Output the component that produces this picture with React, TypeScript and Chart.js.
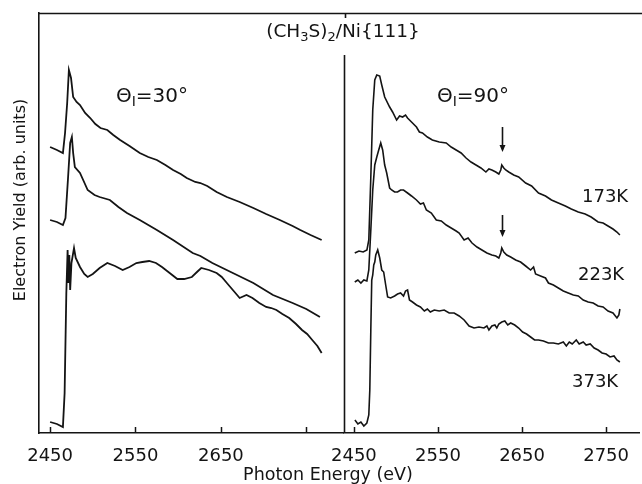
import React, { useEffect, useRef } from 'react';
import { Chart, registerables } from 'chart.js';

Chart.register(...registerables);

// ---------------- axes ----------------
const tickValues = [2450, 2550, 2650, 2750];
const leftTickLabels = ['2450', '2550', '2650', ''];
const rightTickLabels = ['2450', '2550', '2650', '2750'];
const leftRange = [2437, 2793];
const rightRange = [2438.2, 2790];
const yieldRange = [0, 420];

// ---------------- Θ = 30° spectra ----------------
const e30_173K = [2450, 2458, 2465, 2467.5, 2470, 2472, 2474.5, 2477, 2481, 2485, 2491, 2497, 2503, 2509, 2517, 2524, 2532, 2543, 2555, 2565, 2575, 2585, 2594, 2603, 2610, 2620, 2626, 2634, 2645, 2657, 2672, 2688, 2703, 2719, 2734, 2743, 2755, 2768];
const y30_173K = [286, 283, 280, 300, 330, 363, 355, 336, 331, 328, 320, 315, 309, 305, 303, 298, 293, 287, 280, 276, 273, 268, 263, 259, 255, 251, 250, 247, 241, 236, 231, 225, 219, 213, 207, 203, 198, 193];

const e30_223K = [2450, 2458, 2465, 2468, 2471, 2473.5, 2475.5, 2477, 2479, 2485, 2494, 2502, 2508, 2520, 2530, 2540, 2555, 2575, 2594, 2617, 2626, 2640, 2664, 2688, 2711, 2734, 2750, 2766];
const y30_223K = [213, 211, 208, 215, 255, 290, 296, 280, 266, 260, 243, 238, 236, 233, 226, 220, 213, 203, 193, 180, 177, 170, 160, 150, 138, 130, 124, 116];

const e30_373K = [2450, 2458, 2465, 2467, 2469, 2470.5, 2471.5, 2472.5, 2473.5, 2475, 2478, 2480, 2485, 2490, 2494, 2500, 2508, 2517, 2526, 2535, 2543, 2551, 2558, 2566, 2574, 2581, 2590, 2599, 2607, 2616, 2622, 2627, 2636, 2645, 2651, 2657, 2664, 2672, 2680, 2687, 2695, 2703, 2709, 2715, 2722, 2730, 2738, 2745, 2751, 2757, 2763, 2768];
const y30_373K = [11, 9, 6, 40, 140, 183, 150, 178, 143, 170, 185, 175, 166, 159, 156, 159, 165, 170, 167, 163, 166, 170, 171, 172, 170, 166, 160, 154, 154, 156, 161, 165, 163, 160, 156, 150, 143, 135, 138, 135, 130, 126, 125, 123, 119, 115, 109, 103, 99, 93, 87, 80];

// ---------------- Θ = 90° spectra ----------------
const e90_173K = [2451, 2456, 2461, 2465.5, 2467.7, 2470, 2472.4, 2474.8, 2477.2, 2480.7, 2483.1, 2486.6, 2492.5, 2496, 2500.8, 2504.3, 2507.9, 2511.4, 2513.8, 2518.5, 2524.4, 2527.9, 2531.5, 2537.4, 2543.3, 2551.5, 2559.8, 2565.7, 2571.6, 2577.5, 2583.4, 2589.3, 2595.2, 2601.1, 2607, 2610.6, 2614.1, 2618.8, 2622.4, 2624.7, 2625.9, 2628.3, 2630.6, 2634.2, 2640.1, 2646, 2654.3, 2661.4, 2669.6, 2677.9, 2685, 2693.2, 2701.5, 2708.6, 2716.9, 2725.1, 2732.2, 2740.5, 2746.4, 2752.3, 2758.2, 2762.9, 2766.4];
const y90_173K = [180, 182, 181, 183, 193, 253, 323, 353, 358, 357, 348, 336, 326, 321, 313, 317, 316, 318, 315, 311, 306, 301, 300, 296, 293, 291, 290, 286, 283, 280, 275, 271, 268, 265, 261, 264, 263, 261, 259, 263, 268, 265, 263, 261, 258, 256, 250, 247, 240, 237, 233, 230, 227, 224, 221, 219, 216, 211, 210, 207, 204, 201, 198];

const e90_223K = [2451, 2454.7, 2458.3, 2461.8, 2465.4, 2467.7, 2470.1, 2472.4, 2474.8, 2477.2, 2479.5, 2481.9, 2484.2, 2486.6, 2489, 2492.5, 2494.9, 2498.4, 2501.9, 2505.5, 2509, 2513.8, 2518.5, 2524.4, 2529.1, 2532.7, 2536.2, 2542.1, 2548, 2553.9, 2559.8, 2565.7, 2571.6, 2575.2, 2581.1, 2585.8, 2590.5, 2596.4, 2602.3, 2608.2, 2614.1, 2618.8, 2622.4, 2624.7, 2625.9, 2628.3, 2631.8, 2636.5, 2642.4, 2648.3, 2654.3, 2660.2, 2663.7, 2666.1, 2672, 2677.9, 2681.4, 2687.3, 2693.2, 2699.1, 2705, 2711, 2716.9, 2722.8, 2728.7, 2734.6, 2740.5, 2746.4, 2752.3, 2758.2, 2762.9, 2765.2, 2766.4];
const y90_223K = [151, 153, 150, 153, 152, 163, 203, 243, 268, 276, 283, 290, 283, 268, 260, 245, 243, 241, 241, 243, 243, 240, 237, 233, 229, 230, 223, 220, 213, 212, 208, 205, 202, 200, 193, 195, 190, 186, 183, 180, 178, 177, 175, 180, 185, 181, 178, 176, 173, 171, 167, 163, 166, 159, 157, 155, 150, 148, 145, 142, 140, 138, 137, 133, 131, 130, 127, 126, 122, 120, 115, 118, 124];

const e90_373K = [2451.2, 2454.7, 2458.3, 2461.8, 2465.4, 2467.7, 2468.9, 2470.1, 2471.2, 2472.4, 2473.6, 2474.8, 2476, 2478.3, 2480.7, 2483.1, 2485.4, 2487.8, 2490.1, 2493.7, 2498.4, 2501.9, 2505.5, 2509, 2511.4, 2513.8, 2516.1, 2519.7, 2524.4, 2529.1, 2533.8, 2537.4, 2540.9, 2545.6, 2551.5, 2557.4, 2563.3, 2569.2, 2575.2, 2581.1, 2587, 2592.9, 2598.8, 2604.7, 2608.2, 2610.6, 2614.1, 2617.7, 2620, 2622.4, 2625.9, 2629.5, 2633, 2636.5, 2641.3, 2646, 2650.7, 2655.4, 2660.2, 2664.9, 2669.6, 2675.5, 2681.4, 2687.3, 2693.2, 2699.1, 2702.7, 2706.2, 2709.7, 2714.5, 2718, 2722.8, 2726.3, 2731.1, 2735.8, 2740.5, 2745.2, 2750, 2754.7, 2759.4, 2762.9, 2766.4];
const y90_373K = [13, 9, 11, 7, 10, 18, 43, 103, 153, 158, 168, 171, 178, 183, 175, 163, 161, 148, 136, 135, 137, 139, 140, 137, 142, 143, 133, 131, 128, 126, 122, 124, 121, 123, 122, 123, 120, 120, 117, 113, 107, 105, 106, 105, 107, 103, 107, 108, 105, 109, 111, 112, 108, 110, 108, 105, 101, 99, 96, 93, 93, 92, 90, 90, 89, 91, 87, 91, 89, 93, 89, 91, 88, 89, 85, 83, 80, 79, 76, 77, 73, 71];

// ---------------- annotations ----------------
const titleParts = [
  { t: '(CH' }, { t: '3', sub: true }, { t: 'S)' }, { t: '2', sub: true }, { t: '/Ni{111}' },
];
const angleLabels = ['30°', '90°'];
const tempLabels = ['173K', '223K', '373K'];
const xTitle = 'Photon Energy (eV)';
const yTitle = 'Electron Yield (arb. units)';
const arrowEnergy = 2626;
const arrowTop = [306, 218];
const arrowTip = [281, 196];

const FONT = '"DejaVu Sans", "Liberation Sans", Arial, sans-serif';
const INK = '#141414';

type Part = { t: string; sub?: boolean };

function drawRich(ctx: CanvasRenderingContext2D, parts: Part[], x: number, baseline: number, size: number, align: 'left' | 'center') {
  const subSize = Math.round(size * 0.68);
  let total = 0;
  const widths = parts.map((p) => {
    ctx.font = `${p.sub ? subSize : size}px ${FONT}`;
    const w = ctx.measureText(p.t).width;
    total += w;
    return w;
  });
  let cx = align === 'center' ? x - total / 2 : x;
  ctx.textAlign = 'left';
  ctx.textBaseline = 'alphabetic';
  parts.forEach((p, i) => {
    ctx.font = `${p.sub ? subSize : size}px ${FONT}`;
    ctx.fillText(p.t, cx, baseline + (p.sub ? size * 0.22 : 0));
    cx += widths[i];
  });
}

function seg(ctx: CanvasRenderingContext2D, x1: number, y1: number, x2: number, y2: number) {
  ctx.beginPath();
  ctx.moveTo(x1, y1);
  ctx.lineTo(x2, y2);
  ctx.stroke();
}

const innerTicks = {
  id: 'innerTicks',
  afterDraw(chart: any) {
    const { ctx } = chart;
    const xs = chart.scales.x;
    ctx.save();
    ctx.strokeStyle = INK;
    ctx.lineWidth = 1.5;
    for (const v of tickValues) {
      const px = Math.round(xs.getPixelForValue(v)) + 0.5;
      seg(ctx, px, xs.top, px, xs.top - 6);
    }
    ctx.restore();
  },
};

const decor = {
  id: 'decor',
  afterDraw(chart: any) {
    const { ctx, chartArea } = chart;
    const xs = chart.scales.x;
    const ys = chart.scales.y;
    ctx.save();
    ctx.strokeStyle = INK;
    ctx.fillStyle = INK;
    ctx.lineWidth = 1.6;
    // frame top and divider
    seg(ctx, 39, 13.5, 642, 13.5);
    seg(ctx, chartArea.left + 0.5, 55, chartArea.left + 0.5, chartArea.bottom);
    seg(ctx, chartArea.left + 1.5, 13, chartArea.left + 1.5, 18);

    // title
    drawRich(ctx, titleParts, 343, 37, 18.5, 'center');
    // angle labels
    drawRich(ctx, [{ t: 'Θ' }, { t: 'I', sub: true }, { t: '=' + angleLabels[0] }], 152, 102, 20, 'center');
    drawRich(ctx, [{ t: 'Θ' }, { t: 'I', sub: true }, { t: '=' + angleLabels[1] }], 473, 102, 20, 'center');
    // temperature labels
    ctx.font = `18px ${FONT}`;
    ctx.textAlign = 'left';
    ctx.textBaseline = 'alphabetic';
    ctx.fillText(tempLabels[0], 582, 202);
    ctx.fillText(tempLabels[1], 578, 280);
    ctx.fillText(tempLabels[2], 572, 387);

    // arrows
    const ax = Math.round(xs.getPixelForValue(arrowEnergy)) + 0.5;
    ctx.lineWidth = 1.6;
    for (let i = 0; i < arrowTop.length; i++) {
      const y1 = ys.getPixelForValue(arrowTop[i]);
      const y2 = ys.getPixelForValue(arrowTip[i]);
      seg(ctx, ax, y1, ax, y2 - 5);
      ctx.beginPath();
      ctx.moveTo(ax - 3, y2 - 7);
      ctx.lineTo(ax + 3, y2 - 7);
      ctx.lineTo(ax, y2);
      ctx.closePath();
      ctx.fill();
    }

    // axis titles
    ctx.font = `17.5px ${FONT}`;
    ctx.textAlign = 'center';
    ctx.textBaseline = 'alphabetic';
    ctx.fillText(xTitle, 328, 480);
    ctx.save();
    ctx.translate(21, 200);
    ctx.rotate(-Math.PI / 2);
    ctx.font = `16px ${FONT}`;
    ctx.textBaseline = 'middle';
    ctx.fillText(yTitle, 0, 0);
    ctx.restore();
    ctx.restore();
  },
};

function makeConfig(series: number[][][], range: number[], labels: string[], side: 'left' | 'right', plugins: any[]) {
  const yAxis: any = {
    type: 'linear',
    min: yieldRange[0],
    max: yieldRange[1],
    display: side === 'left',
    ticks: { display: false },
    grid: { display: false, drawTicks: false },
    border: { display: true, color: INK, width: 1.6 },
  };
  if (side === 'left') {
    yAxis.afterFit = (s: any) => {
      s.width = 39;
    };
  }
  return {
    type: 'line' as const,
    data: {
      datasets: series.map(([e, y]) => ({
        data: e.map((x, i) => ({ x, y: y[i] })),
        borderColor: INK,
        borderWidth: side === 'left' ? 1.8 : 1.6,
        pointRadius: 0,
        tension: 0,
        fill: false,
      })),
    },
    options: {
      responsive: false,
      animation: false as const,
      events: [],
      layout: { padding: { left: side === 'right' ? 344 : 0, top: 13, right: side === 'left' ? 1 : 0, bottom: 0 } },
      plugins: { legend: { display: false }, tooltip: { enabled: false }, title: { display: false } },
      scales: {
        x: {
          type: 'linear' as const,
          min: range[0],
          max: range[1],
          afterBuildTicks: (s: any) => {
            s.ticks = tickValues.map((value) => ({ value }));
          },
          afterFit: (s: any) => {
            s.height = 51;
          },
          ticks: {
            autoSkip: false,
            maxRotation: 0,
            padding: 13,
            color: INK,
            font: { family: FONT, size: 18 },
            callback: (v: any) => {
              const i = tickValues.indexOf(Number(v));
              return i >= 0 ? labels[i] : '';
            },
          },
          grid: { display: false, drawTicks: false },
          border: { display: true, color: INK, width: 1.6 },
        },
        y: yAxis,
      },
    },
    plugins,
  };
}

export default function App() {
  const refA = useRef<HTMLCanvasElement>(null);
  const refB = useRef<HTMLCanvasElement>(null);

  useEffect(() => {
    const a = new Chart(
      refA.current as HTMLCanvasElement,
      makeConfig(
        [
          [e30_173K, y30_173K],
          [e30_223K, y30_223K],
          [e30_373K, y30_373K],
        ],
        leftRange,
        leftTickLabels,
        'left',
        [innerTicks]
      ) as any
    );
    const b = new Chart(
      refB.current as HTMLCanvasElement,
      makeConfig(
        [
          [e90_173K, y90_173K],
          [e90_223K, y90_223K],
          [e90_373K, y90_373K],
        ],
        rightRange,
        rightTickLabels,
        'right',
        [innerTicks, decor]
      ) as any
    );
    return () => {
      a.destroy();
      b.destroy();
    };
  }, []);

  return (
    <div style={{ position: 'absolute', left: 0, top: 0, width: 642, height: 484, background: '#fff', overflow: 'hidden' }}>
      <canvas ref={refA} width={344} height={484} style={{ position: 'absolute', left: 0, top: 0, width: 344, height: 484 }} />
      <canvas ref={refB} width={642} height={484} style={{ position: 'absolute', left: 0, top: 0, width: 642, height: 484 }} />
    </div>
  );
}
